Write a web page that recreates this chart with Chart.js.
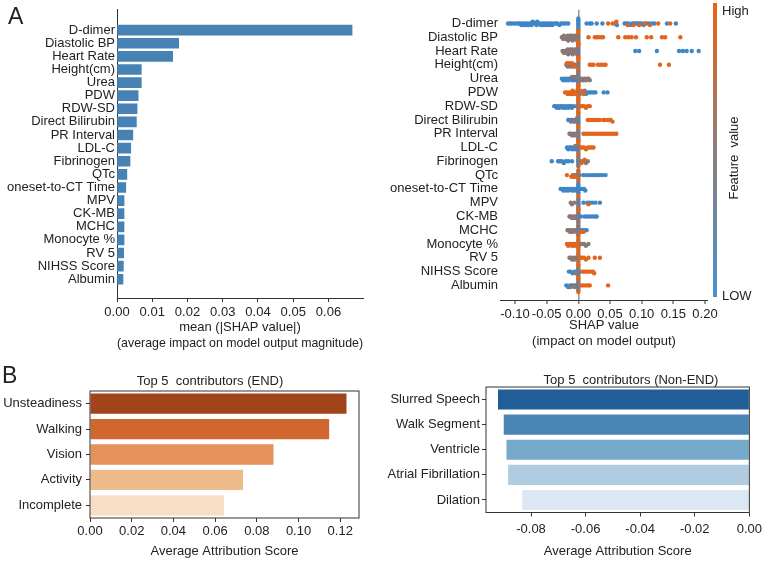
<!DOCTYPE html>
<html>
<head>
<meta charset="utf-8">
<script src="https://cdn.jsdelivr.net/npm/chart.js@4.4.1/dist/chart.umd.min.js"></script>
<style>
  body { margin: 0; background: #fff; font-family: "Liberation Sans", Arial, sans-serif; color: #222; }
  #page { position: relative; width: 767px; height: 561px; overflow: hidden; }
  canvas, .txt, .cbar { position: absolute; }
  .txt { font-size: 13px; white-space: pre; line-height: 1; }
  .c { transform: translate(-50%, -50%); }
  .panel { font-size: 23px; }
</style>
</head>
<body>
<div id="page">
  <canvas id="shapBar" width="372" height="360" style="left:0;top:0"></canvas>
  <canvas id="shapSwarm" width="397" height="360" style="left:370px;top:0"></canvas>
  <canvas id="endChart" width="380" height="199" style="left:0;top:362px"></canvas>
  <canvas id="nonEndChart" width="387" height="199" style="left:380px;top:362px"></canvas>

  <div class="txt panel" style="left:8px;top:5px">A</div>
  <div class="txt panel" style="left:2px;top:364px">B</div>

  <div class="cbar" style="left:713px;top:3px;width:4px;height:294px;background:linear-gradient(to bottom,#e8630f,#8e7e7b 50%,#4592d4)"></div>
  <div class="txt" style="left:722px;top:4px">High</div>
  <div class="txt" style="left:722px;top:289px">LOW</div>
  <div class="txt c" style="left:733px;top:158px;transform:translate(-50%,-50%) rotate(-90deg)">Feature  value</div>

  <div class="txt c" style="left:210px;top:380px">Top 5  contributors (END)</div>
  <div class="txt c" style="left:631px;top:379px">Top 5  contributors (Non-END)</div>
</div>
<script>
// panel A: mean |SHAP| per feature
var features = ["D-dimer", "Diastolic BP", "Heart Rate", "Height(cm)", "Urea", "PDW", "RDW-SD",
    "Direct Bilirubin", "PR Interval", "LDL-C", "Fibrinogen", "QTc", "oneset-to-CT Time", "MPV",
    "CK-MB", "MCHC", "Monocyte %", "RV 5", "NIHSS Score", "Albumin"];
var meanAbsShap = [0.0667, 0.0175, 0.0158, 0.0069, 0.0069, 0.0060, 0.0057, 0.0055, 0.0045, 0.0039,
    0.0037, 0.0028, 0.0025, 0.0020, 0.0020, 0.0020, 0.0020, 0.0019, 0.0018, 0.0017];

// panel A: SHAP values per feature, split by feature value (low / mid / high)
var shapLow = [
    [-0.111, -0.108, -0.105, -0.101, -0.097, -0.094, -0.092, -0.090, -0.088, -0.086, -0.084, -0.083, -0.081, -0.079, -0.077, -0.075, -0.074, -0.072, -0.070, -0.068, -0.066, -0.065, -0.063, -0.061, -0.059, -0.057, -0.056, -0.054, -0.052, -0.050, -0.048, -0.047, -0.045, -0.043, -0.041, -0.039, -0.036, -0.033, -0.030, -0.027, -0.024, -0.020, -0.016, 0, 0, 0, 0, 0, 0, 0, 0, 0.013, 0.018, 0.021, 0.029, 0.038, 0.058, 0.061, 0.073, 0.076, 0.079, 0.082, 0.085, 0.088, 0.091, 0.094, 0.097, 0.100, 0.103, 0.107, 0.111, 0.116, 0.120, 0.140, 0.154],
    [0],
    [0, 0, 0, 0.090, 0.096, 0.124, 0.159, 0.165, 0.171, 0.179, 0.190],
    [0],
    [-0.026, -0.024, -0.022, -0.020, -0.018, -0.016, -0.014, -0.012, -0.010, -0.008, -0.006, -0.004, -0.002, 0, 0, 0, 0, 0],
    [0, 0, 0, 0, 0.003, 0.006, 0.009, 0.012, 0.015, 0.018, 0.021, 0.024, 0.027, 0.040, 0.046],
    [-0.038, -0.036, -0.034, -0.032, -0.030, -0.028, -0.026, -0.024, -0.022, -0.020, -0.018, -0.016, -0.014, -0.012, -0.010, -0.008, 0, 0, 0],
    [-0.016, -0.013, -0.010, -0.007, -0.004, 0, 0, 0, 0],
    [0, 0, 0, 0],
    [-0.018, -0.016, -0.014, -0.012, -0.010, -0.008, -0.006, -0.004, -0.002, 0, 0, 0, 0],
    [-0.042, -0.032, -0.029, -0.026, -0.023, -0.020, -0.016, -0.010, 0, 0, 0],
    [0, 0, 0.008, 0.013, 0.018, 0.022, 0.026, 0.030, 0.034, 0.038, 0.043],
    [-0.028, -0.026, -0.024, -0.022, -0.020, -0.018, -0.016, -0.014, -0.012, -0.010, -0.008, -0.006, -0.004, -0.002, 0, 0, 0, 0, 0, 0, 0, 0.003, 0.006, 0.009, 0.011],
    [0, 0, 0, 0.008, 0.014, 0.018, 0.022, 0.027, 0.034],
    [0, 0, 0, 0.004, 0.010, 0.014, 0.018, 0.022, 0.026, 0.029],
    [0, 0, 0, 0.003, 0.006, 0.009, 0.013],
    [0],
    [0],
    [-0.015, -0.012, -0.009, -0.006, -0.003, 0, 0, 0, 0],
    [-0.019, -0.016, -0.013, -0.010, -0.007, -0.004, 0, 0, 0, 0]
];
var shapMid = [
    [],
    [-0.026, -0.024, -0.023, -0.021, -0.020, -0.019, -0.018, -0.017, -0.016, -0.015, -0.014, -0.013, -0.012, -0.011, -0.010, -0.009, -0.008, -0.007, -0.006, -0.005, -0.004, -0.003, -0.002, 0, 0, 0, 0],
    [-0.025, -0.023, -0.022, -0.020, -0.019, -0.018, -0.017, -0.016, -0.015, -0.014, -0.013, -0.012, -0.011, -0.010, -0.009, -0.008, -0.007, -0.006, -0.005, -0.004, -0.003, -0.002, 0, 0, 0, 0],
    [-0.019, -0.017, -0.015, -0.013, -0.011, -0.009, -0.007, -0.005, -0.003, 0, 0, 0, 0],
    [-0.010, -0.006, -0.003, 0, 0, 0, 0, 0.002, 0.004, 0.006, 0.008, 0.010, 0.012, 0.014, 0.016, 0.018],
    [-0.012, -0.006, 0.002, 0.010],
    [-0.003, 0, 0],
    [-0.012, -0.008, -0.005, -0.002, 0, 0, 0],
    [-0.014, -0.012, -0.010, -0.008, -0.006, -0.004, -0.002, 0, 0, 0, 0],
    [-0.005, 0, 0],
    [0, 0, 0, 0, 0.003, 0.006, 0.009, 0.012, 0.015],
    [-0.009, -0.006, -0.003, 0, 0, 0, 0.002],
    [],
    [-0.012, -0.010, -0.006, 0, 0, 0, 0, 0],
    [-0.014, -0.012, -0.010, -0.008, -0.006, -0.004, -0.002, 0, 0, 0, 0, 0],
    [-0.017, -0.015, -0.013, -0.011, -0.009, -0.007, -0.005, -0.003, 0, 0, 0, 0],
    [0, 0, 0, 0.003, 0.006, 0.009, 0.012, 0.016],
    [-0.014, -0.012, -0.010, -0.008, -0.006, -0.004, -0.002, 0, 0, 0, 0],
    [-0.004, 0, 0, 0],
    [-0.012, -0.006, 0, 0, 0]
];
var shapHigh = [
    [0.047, 0.054, 0.060, 0.078, 0.087, 0.096, 0.105, 0.113, 0.126, 0.145],
    [0, 0, 0, 0, 0, 0.016, 0.026, 0.029, 0.032, 0.036, 0.039, 0.063, 0.074, 0.079, 0.084, 0.091, 0.108, 0.115, 0.132, 0.137, 0.161],
    [0, 0, 0, 0],
    [-0.018, -0.014, -0.010, -0.006, 0, 0, 0, 0, 0.018, 0.021, 0.024, 0.031, 0.035, 0.039, 0.043, 0.129, 0.143],
    [0],
    [-0.021, -0.019, -0.017, -0.015, -0.013, -0.011, -0.009, -0.007, -0.005, -0.003, -0.001, 0, 0, 0, 0, 0.004, 0.008],
    [0, 0, 0, 0, 0.003, 0.006, 0.009, 0.012, 0.015, 0.018],
    [0, 0, 0.015, 0.018, 0.022, 0.026, 0.030, 0.034, 0.040, 0.043, 0.047, 0.051, 0.054],
    [0, 0, 0.008, 0.012, 0.016, 0.020, 0.024, 0.028, 0.032, 0.036, 0.040, 0.044, 0.048, 0.052, 0.056, 0.060],
    [0, 0, 0, 0.003, 0.006, 0.009, 0.012, 0.015, 0.018, 0.021, 0.024],
    [0.005, 0.010],
    [-0.018, -0.011, -0.008, -0.005, 0, 0, 0],
    [],
    [0.016, 0, 0],
    [0],
    [0, 0.004, 0.008],
    [-0.018, -0.016, -0.014, -0.012, -0.010, -0.008, -0.006, -0.004, -0.002, 0, 0, 0, 0],
    [0, 0, 0, 0.003, 0.006, 0.009, 0.012, 0.016, 0.026, 0.034],
    [0, 0, 0.005, 0.008, 0.011, 0.014, 0.017, 0.020, 0.023, 0.025],
    [0, 0, 0.003, 0.007, 0.011, 0.015, 0.018, 0.047]
];

// panel B: top contributors
var endLabels = ["Unsteadiness", "Walking", "Vision", "Activity", "Incomplete"];
var endScores = [0.1230, 0.1147, 0.0880, 0.0734, 0.0643];
var nonEndLabels = ["Slurred Speech", "Walk Segment", "Ventricle", "Atrial Fibrillation", "Dilation"];
var nonEndScores = [-0.0921, -0.0900, -0.0890, -0.0884, -0.0832];

var endColors = ["#a1441b", "#d0672e", "#e5915a", "#eebb8c", "#f7dec4"];
var nonEndColors = ["#215d96", "#4a85b6", "#77a9ca", "#afcce0", "#dbe7f2"];
var LOW = "#3f86c8", MID = "#8a7874", HIGH = "#e3651c";

Chart.defaults.font.family = '"Liberation Sans", Arial, sans-serif';
Chart.defaults.font.size = 13;
Chart.defaults.color = "#222";

function fmt2(v) {
    return (Math.abs(v) < 1e-9 ? 0 : v).toFixed(2);
}

// beeswarm layout: stack points that fall in the same x bin
var binW = 0.0035, step = 0.12;
var swarmPts = [], swarmCols = [];
features.forEach(function (f, i) {
    var pts = [];
    shapLow[i].forEach(function (v) { pts.push([v, LOW]); });
    shapMid[i].forEach(function (v) { pts.push([v, MID]); });
    shapHigh[i].forEach(function (v) { pts.push([v, HIGH]); });
    var bins = {};
    pts.forEach(function (p) {
        var b = Math.round(p[0] / binW);
        var n = bins[b] = (bins[b] || 0) + 1;
        n = n - 1;
        var off = (n % 2 ? (n + 1) / 2 : -n / 2) * step;
        off = Math.max(-0.48, Math.min(0.48, off));
        swarmPts.push({ x: p[0], y: i + off });
        swarmCols.push(p[1]);
    });
});

var framePlugin = {
    id: "frame",
    afterDraw: function (chart) {
        var a = chart.chartArea, ctx = chart.ctx;
        ctx.save();
        ctx.strokeStyle = "#333";
        ctx.lineWidth = 1;
        ctx.strokeRect(a.left, a.top, a.right - a.left, a.bottom - a.top);
        ctx.restore();
    }
};

var featureTicks = function (s) {
    s.ticks = features.map(function (f, i) { return { value: i }; });
};

new Chart(document.getElementById("shapBar"), {
    type: "bar",
    data: {
        datasets: [{
            data: meanAbsShap.map(function (v, i) { return { x: v, y: i }; }),
            backgroundColor: "#4682b4",
            barThickness: 10
        }]
    },
    options: {
        indexAxis: "y",
        responsive: false,
        animation: false,
        layout: { padding: { top: 5, right: 9, bottom: 8.5, left: 0 } },
        plugins: { legend: { display: false }, tooltip: { enabled: false } },
        scales: {
            x: {
                type: "linear", min: 0, max: 0.0698,
                afterFit: function (s) { s.height = 53.5; },
                ticks: { stepSize: 0.01, includeBounds: false, padding: 3, maxRotation: 0, callback: fmt2 },
                grid: { drawOnChartArea: false, tickLength: 4, color: "#333" },
                border: { color: "#333" },
                title: {
                    display: true, padding: 0, font: { size: 13, lineHeight: 1.25 },
                    text: ["mean (|SHAP value|)", "(average impact on model output magnitude)"]
                }
            },
            y: {
                type: "linear", reverse: true, min: -1.0, max: 19.88,
                afterFit: function (s) { s.width = 117; },
                afterBuildTicks: featureTicks,
                ticks: { autoSkip: false, padding: 2, callback: function (v) { return features[v]; } },
                grid: { display: false, drawTicks: false },
                border: { color: "#333" }
            }
        }
    }
});

new Chart(document.getElementById("shapSwarm"), {
    type: "scatter",
    data: {
        datasets: [{
            data: swarmPts,
            pointBackgroundColor: swarmCols,
            pointBorderWidth: 0,
            pointRadius: 2.2
        }]
    },
    options: {
        responsive: false,
        animation: false,
        layout: { padding: { top: 3, right: 59, bottom: 10, left: 0 } },
        plugins: { legend: { display: false }, tooltip: { enabled: false } },
        scales: {
            x: {
                type: "linear", min: -0.1237, max: 0.2047,
                afterFit: function (s) { s.height = 50; },
                ticks: { stepSize: 0.05, includeBounds: false, padding: 3, autoSkip: false, maxRotation: 0, minRotation: 0, callback: fmt2 },
                grid: {
                    color: function (c) { return c.tick && Math.abs(c.tick.value) < 1e-9 ? "#9a9a9a" : "transparent"; },
                    lineWidth: function (c) { return c.tick && Math.abs(c.tick.value) < 1e-9 ? 1.6 : 0; },
                    tickColor: "#333", tickWidth: 1, tickLength: 4
                },
                border: { color: "#333" },
                title: {
                    display: true, padding: 0, font: { size: 13, lineHeight: 1.25 },
                    text: ["SHAP value", "(impact on model output)"]
                }
            },
            y: {
                type: "linear", reverse: true, min: -0.99, max: 20.06,
                afterFit: function (s) { s.width = 130; },
                afterBuildTicks: featureTicks,
                ticks: { autoSkip: false, padding: 2, callback: function (v) { return features[v]; } },
                grid: { display: false, drawTicks: false },
                border: { display: false }
            }
        }
    }
});

new Chart(document.getElementById("endChart"), {
    type: "bar",
    data: {
        labels: endLabels,
        datasets: [{ data: endScores, backgroundColor: endColors, barPercentage: 0.8, categoryPercentage: 1 }]
    },
    options: {
        indexAxis: "y",
        responsive: false,
        animation: false,
        layout: { padding: { top: 29, right: 21, bottom: 1.9, left: 0 } },
        plugins: { legend: { display: false }, tooltip: { enabled: false } },
        scales: {
            x: {
                min: 0, max: 0.129,
                afterFit: function (s) { s.height = 41.1; },
                ticks: { stepSize: 0.02, includeBounds: false, padding: 2, maxRotation: 0, callback: fmt2 },
                grid: { drawOnChartArea: false, tickLength: 4, color: "#333" },
                border: { display: false },
                title: { display: true, text: "Average Attribution Score", padding: 0, font: { size: 13, lineHeight: 1.25 } }
            },
            y: {
                afterFit: function (s) { s.width = 90; },
                ticks: { padding: 4 },
                grid: { drawOnChartArea: false, offset: false, tickLength: 4, color: "#333" },
                border: { display: false }
            }
        }
    },
    plugins: [framePlugin]
});

new Chart(document.getElementById("nonEndChart"), {
    type: "bar",
    data: {
        labels: nonEndLabels,
        datasets: [{ data: nonEndScores, backgroundColor: nonEndColors, barPercentage: 0.8, categoryPercentage: 1 }]
    },
    options: {
        indexAxis: "y",
        responsive: false,
        animation: false,
        layout: { padding: { top: 25, right: 11.5, bottom: 1.9, left: 0 } },
        plugins: { legend: { display: false }, tooltip: { enabled: false } },
        scales: {
            x: {
                min: -0.0965, max: 0,
                afterFit: function (s) { s.height = 46.6; },
                ticks: { stepSize: 0.02, includeBounds: false, padding: 5, maxRotation: 0, callback: fmt2 },
                grid: { drawOnChartArea: false, tickLength: 4, color: "#333" },
                border: { display: false },
                title: { display: true, text: "Average Attribution Score", padding: 0, font: { size: 13, lineHeight: 1.25 } }
            },
            y: {
                afterFit: function (s) { s.width = 106; },
                ticks: { padding: 2 },
                grid: { drawOnChartArea: false, offset: false, tickLength: 4, color: "#333" },
                border: { display: false }
            }
        }
    },
    plugins: [framePlugin]
});
</script>
</body>
</html>
